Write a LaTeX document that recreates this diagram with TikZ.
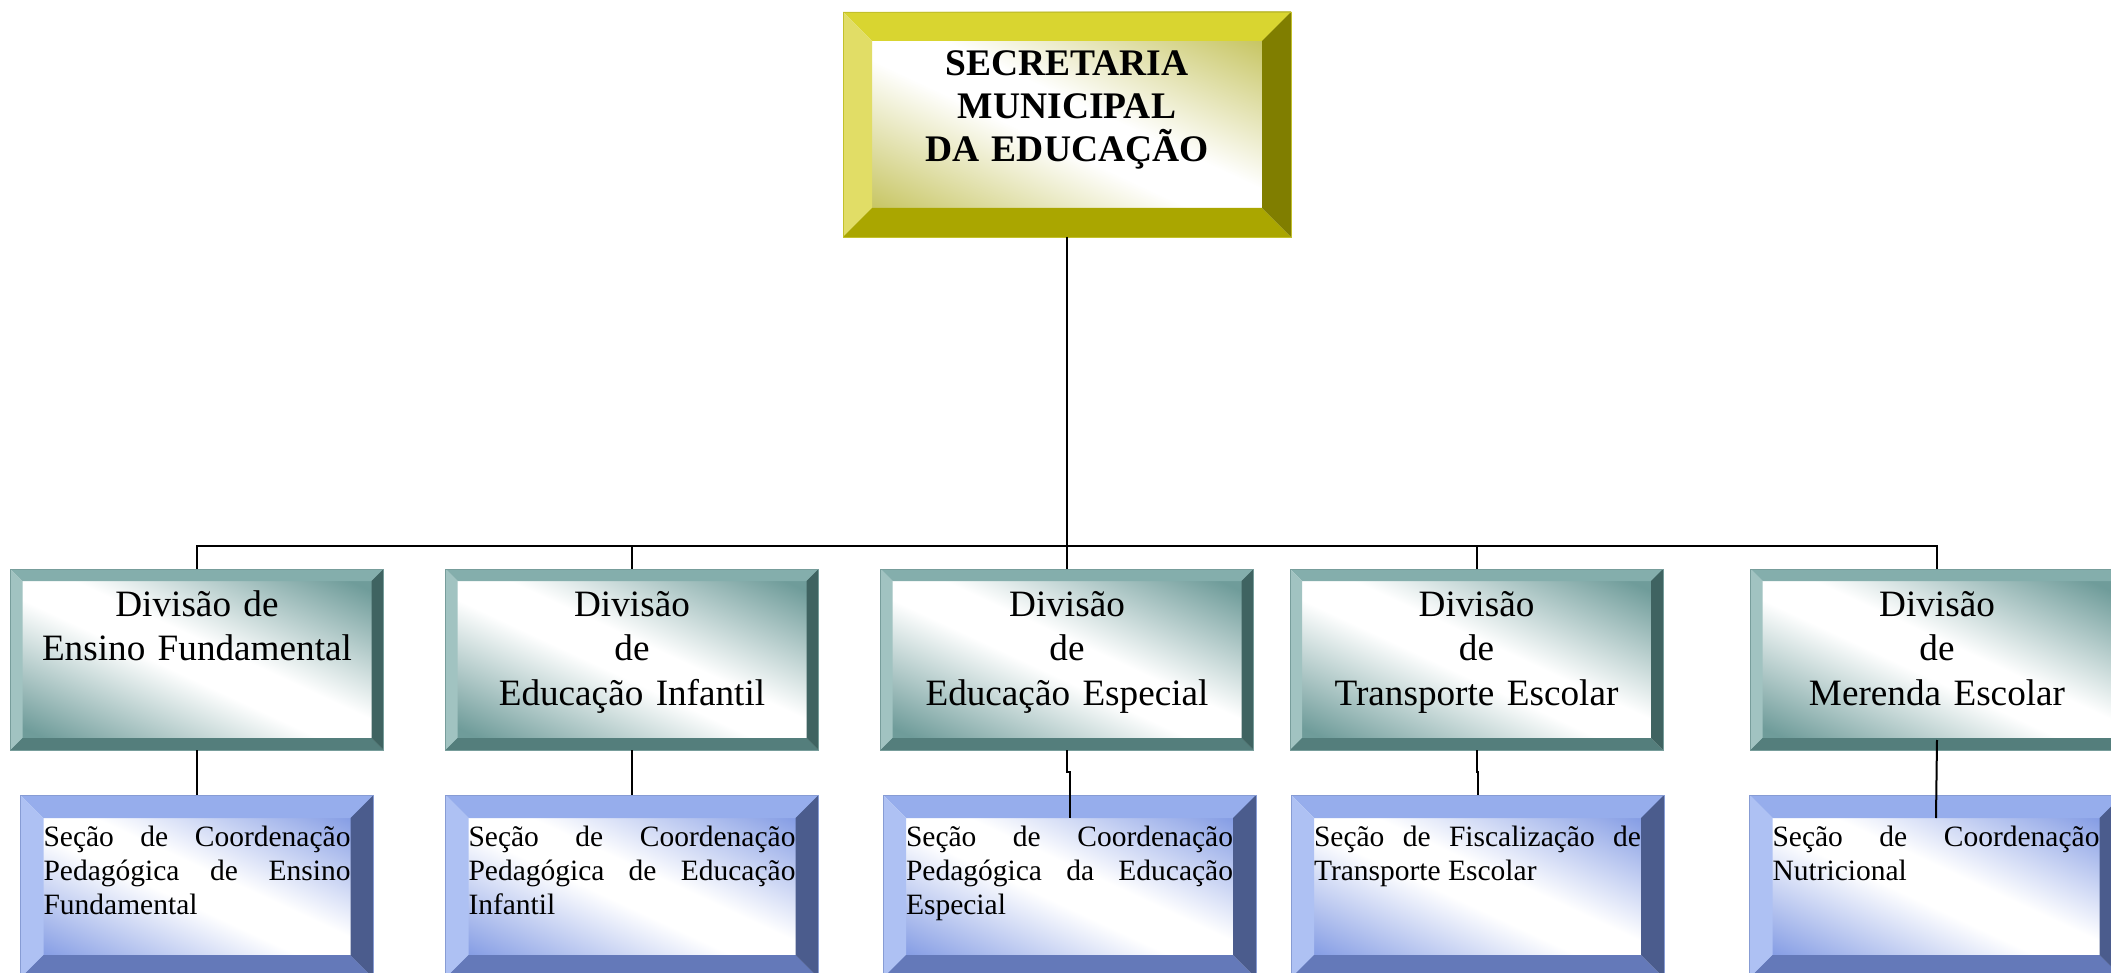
\documentclass[tikz,border=0pt]{standalone}
\usepackage{fontspec}
\setmainfont{Liberation Serif}
\usetikzlibrary{positioning,calc}

\definecolor{goldtop}{HTML}{D9D530}
\definecolor{goldleft}{HTML}{E1DD66}
\definecolor{goldbottom}{HTML}{AAA600}
\definecolor{goldright}{HTML}{807E00}
\definecolor{goldface}{HTML}{C4C25A}
\definecolor{tealtop}{HTML}{84AEAC}
\definecolor{tealleft}{HTML}{A1C3C1}
\definecolor{tealbottom}{HTML}{547E7C}
\definecolor{tealright}{HTML}{3F6361}
\definecolor{tealface}{HTML}{6F9C9A}
\definecolor{bluetop}{HTML}{96ADEC}
\definecolor{blueleft}{HTML}{AEC1F3}
\definecolor{bluebottom}{HTML}{6479B9}
\definecolor{blueright}{HTML}{4B5C8D}
\definecolor{blueface}{HTML}{7F98E3}
\colorlet{facecolor}{tealface}

% face gradient: colour at two corners, white plateau in the middle
\pgfdeclareverticalshading[facecolor]{facefade}{100bp}{
    color(0bp)=(facecolor); color(22bp)=(facecolor); color(46bp)=(white);
    color(54bp)=(white); color(78bp)=(facecolor); color(100bp)=(facecolor)}

\begin{document}
\begin{tikzpicture}[
    bevel/.style n args={6}{% width, top, left, bottom, right, face
        path picture={
            \coordinate (p-sw) at (path picture bounding box.south west);
            \coordinate (p-ne) at (path picture bounding box.north east);
            \coordinate (p-nw) at (p-sw |- p-ne);
            \coordinate (p-se) at (p-ne |- p-sw);
            \colorlet{facecolor}{#6}
            \shade[shading=facefade, shading angle=-25] (p-sw) rectangle (p-ne);
            \fill[#2] (p-nw) -- (p-ne) -- ([shift={(-#1,-#1)}]p-ne) -- ([shift={(#1,-#1)}]p-nw) -- cycle;
            \fill[#3] (p-sw) -- (p-nw) -- ([shift={(#1,-#1)}]p-nw) -- ([shift={(#1,#1)}]p-sw) -- cycle;
            \fill[#4] (p-sw) -- (p-se) -- ([shift={(-#1,#1)}]p-se) -- ([shift={(#1,#1)}]p-sw) -- cycle;
            \fill[#5] (p-se) -- (p-ne) -- ([shift={(-#1,-#1)}]p-ne) -- ([shift={(-#1,#1)}]p-se) -- cycle;
        },
        draw=#2!90!black, line width=0.4pt, outer sep=0pt, inner ysep=0pt, inner xsep=#1
    },
    head_box/.style={
        bevel={14.5pt}{goldtop}{goldleft}{goldbottom}{goldright}{goldface},
        text width=195pt, text height=32pt, text depth=80.5pt,
        align=center,
        font=\bfseries\fontsize{18.75pt}{21.5pt}\selectfont
    },
    division/.style={
        bevel={6pt}{tealtop}{tealleft}{tealbottom}{tealright}{tealface},
        text width=174.5pt, text height=23.5pt, text depth=67pt,
        align=center,
        font=\fontsize{18.6pt}{22.3pt}\selectfont
    },
    section/.style={
        bevel={11.5pt}{bluetop}{blueleft}{bluebottom}{blueright}{blueface},
        text width=163.5pt, text height=25.5pt, text depth=66pt,
        align=justify,
        font=\fontsize{14.75pt}{17pt}\selectfont,
        execute at begin node={\tolerance 10000\hyphenpenalty 10000\spaceskip .25em plus 1em minus .08em}
    },
    link/.style={line width=1pt}
]
    \useasboundingbox (0,0) rectangle (1055.5pt,-486.5pt);

    % Nodes
    \node[head_box] (secretaria) at (533.5pt,-62.25pt) {SECRETARIA\\ MUNICIPAL\\ DA EDUCAÇÃO};

    \node[division] (div1) at (98.5pt,-329.75pt) {Divisão de\\ Ensino Fundamental};
    \node[division] (div2) at (316pt,-329.75pt) {Divisão\\ de\\ Educação Infantil};
    \node[division] (div3) at (533.5pt,-329.75pt) {Divisão\\ de\\ Educação Especial};
    \node[division] (div4) at (738.25pt,-329.75pt) {Divisão\\ de\\ Transporte Escolar};
    \node[division] (div5) at (968.5pt,-329.75pt) {Divisão\\ de\\ Merenda Escolar};

    \node[section, text width=153.5pt, below=22.5pt of div1] (sec1) {Seção de Coordenação Pedagógica de Ensino Fundamental};
    \node[section, below=22.5pt of div2] (sec2) {Seção de Coordenação Pedagógica de Educação Infantil};
    \node[section, below=22.5pt of div3, xshift=1.25pt] (sec3) {Seção de Coordenação Pedagógica da Educação Especial};
    \node[section, below=22.5pt of div4, xshift=0.5pt] (sec4) {Seção de Fiscalização de Transporte Escolar};
    \node[section, below=22.5pt of div5, xshift=-0.5pt] (sec5) {Seção de Coordenação Nutricional};

    % Connections
    \coordinate (bus) at (533.5pt,-272.85pt);
    \draw[link] (secretaria) -- (bus);
    \foreach \d in {1,...,5}
        \draw[link] (bus) -| (div\d.north);

    \draw[link] (div1) -- (sec1);
    \draw[link] (div2) -- (sec2);
    \draw[link] (div3.south) -- ++(0,-11pt) -| ([yshift=-11.5pt]sec3.north);
    \draw[link] (div4.south) -- ++(0,-11pt) -| (sec4.north);
    \draw[link] ([yshift=5pt]div5.south) -- ([yshift=-11.5pt]sec5.north);
\end{tikzpicture}
\end{document}
